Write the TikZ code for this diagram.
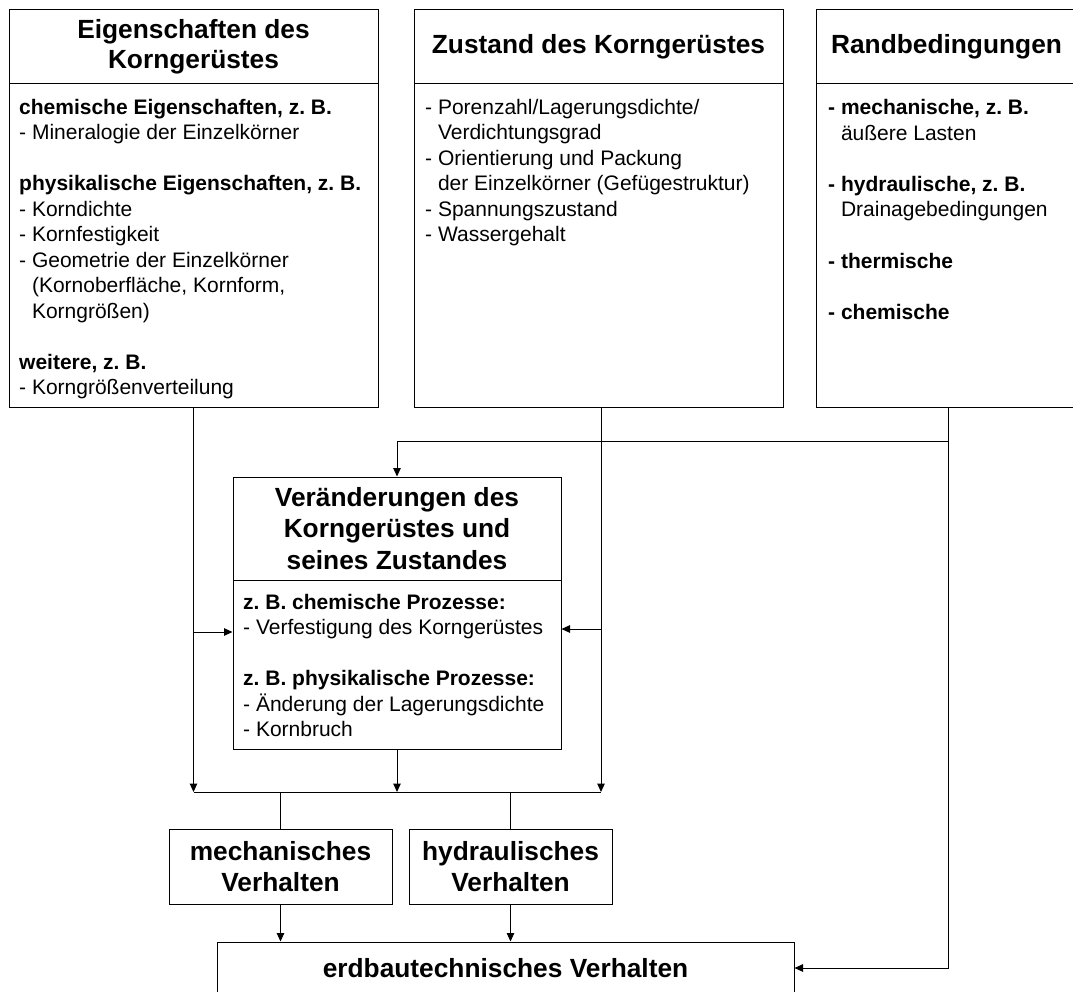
\documentclass[tikz,border=0pt]{standalone}
\usepackage{fontspec}
\setmainfont{Liberation Sans}
\usetikzlibrary{arrows.meta}
\frenchspacing
\tikzset{
  box/.style={draw, line width=1pt, rectangle, inner sep=0pt, align=center},
  ttl/.style={font=\bfseries\fontsize{26.3}{30}\selectfont},
  body/.style={inner sep=0pt, anchor=base west, align=left, font=\fontsize{21}{25.5}\selectfont},
  arr/.style={line width=1pt, -{Triangle[length=8.5pt,width=7.5pt]}},
  ln/.style={line width=1pt}
}
\newcommand{\ind}{\phantom{- }}
\newcommand{\indb}{\phantom{\textbf{- }}}
\begin{document}
\begin{tikzpicture}[x=1pt,y=-1pt]
\useasboundingbox (0,0) rectangle (1073,992);
\clip (0,0) rectangle (1073,992);
% top boxes
\node[box, ttl, minimum width=369pt, minimum height=74pt] (h1) at (193.5,47) {Eigenschaften des\\Korngerüstes};
\node[box, minimum width=369pt, minimum height=323pt] (b1) at (193.5,245.5) {};
\node[box, ttl, minimum width=369pt, minimum height=74pt] (h2) at (598.5,47) {Zustand des Korngerüstes};
\node[box, minimum width=369pt, minimum height=323pt] (b2) at (598.5,245.5) {};
\node[box, ttl, minimum width=261pt, minimum height=74pt] (h3) at (946.5,47) {Randbedingungen};
\node[box, minimum width=261pt, minimum height=323pt] (b3) at (946.5,245.5) {};
% body texts (anchored at the baseline of the last line)
\node[body] (t1) at (19,394.8) {\textbf{chemische Eigenschaften, z. B.}\\
- Mineralogie der Einzelkörner\\[25.5pt]
\textbf{physikalische Eigenschaften, z. B.}\\
- Korndichte\\
- Kornfestigkeit\\
- Geometrie der Einzelkörner\\
\ind(Kornoberfläche, Kornform,\\
\ind Korngrößen)\\[25.5pt]
\textbf{weitere, z. B.}\\
- Korngrößenverteilung};
\node[body] (t2) at (425,241.8) {- Porenzahl/Lagerungsdichte/\\
\ind Verdichtungsgrad\\
- Orientierung und Packung\\
\ind der Einzelkörner (Gefügestruktur)\\
- Spannungszustand\\
- Wassergehalt};
\node[body] (t3) at (828,319) {\textbf{- mechanische, z. B.}\\
\indb äußere Lasten\\[25.5pt]
\textbf{- hydraulische, z. B.}\\
\indb Drainagebedingungen\\[25.5pt]
\textbf{- thermische}\\[25.5pt]
\textbf{- chemische}};
% middle box
\node[box, font=\bfseries\fontsize{26.3}{31.7}\selectfont, minimum width=328pt, minimum height=103pt] (vh) at (397,528.5) {Veränderungen des\\Korngerüstes und\\seines Zustandes};
\node[box, minimum width=328pt, minimum height=169pt] (vb) at (397,664.5) {};
\node[body] (tv) at (243,736.5) {\textbf{z. B. chemische Prozesse:}\\
- Verfestigung des Korngerüstes\\[25.5pt]
\textbf{z. B. physikalische Prozesse:}\\
- Änderung der Lagerungsdichte\\
- Kornbruch};
% lower boxes
\node[box, font=\bfseries\fontsize{26.3}{31}\selectfont, minimum width=223pt, minimum height=75pt] (mech) at (280.5,866.5) {mechanisches\\Verhalten};
\node[box, font=\bfseries\fontsize{26.3}{31}\selectfont, minimum width=203pt, minimum height=75pt] (hyd) at (510.5,866.5) {hydraulisches\\Verhalten};
\node[box, ttl, minimum width=577pt, minimum height=52pt] (erd) at (505.5,968) {erdbautechnisches Verhalten};
% junction coordinates
\coordinate (x1) at (193.5,407);
\coordinate (x2) at (601,407);
\coordinate (x3) at (948.5,407);
\coordinate (busL) at (193.5,792);
\coordinate (busR) at (601,792);
\coordinate (j1) at (193.5,632);
\coordinate (j2) at (601,629);
\coordinate (j3) at (948.5,441);
% connectors
\draw[arr] (x1) -- (busL);
\draw[arr] (x2) -- (busR);
\draw[arr] (j1) -- (j1 -| vb.west);
\draw[arr] (j2) -- (j2 -| vb.east);
\draw[arr] (vb.south) -- (vb.south |- busL);
\draw[ln] (busL) -- (busR);
\draw[ln] (mech.north |- busL) -- (mech.north);
\draw[ln] (hyd.north |- busL) -- (hyd.north);
\draw[arr] (mech.south) -- (mech.south |- erd.north);
\draw[arr] (hyd.south) -- (hyd.south |- erd.north);
\draw[arr] (x3) |- (erd.east);
\draw[arr] (j3) -| (vh.north);
\end{tikzpicture}
\end{document}
